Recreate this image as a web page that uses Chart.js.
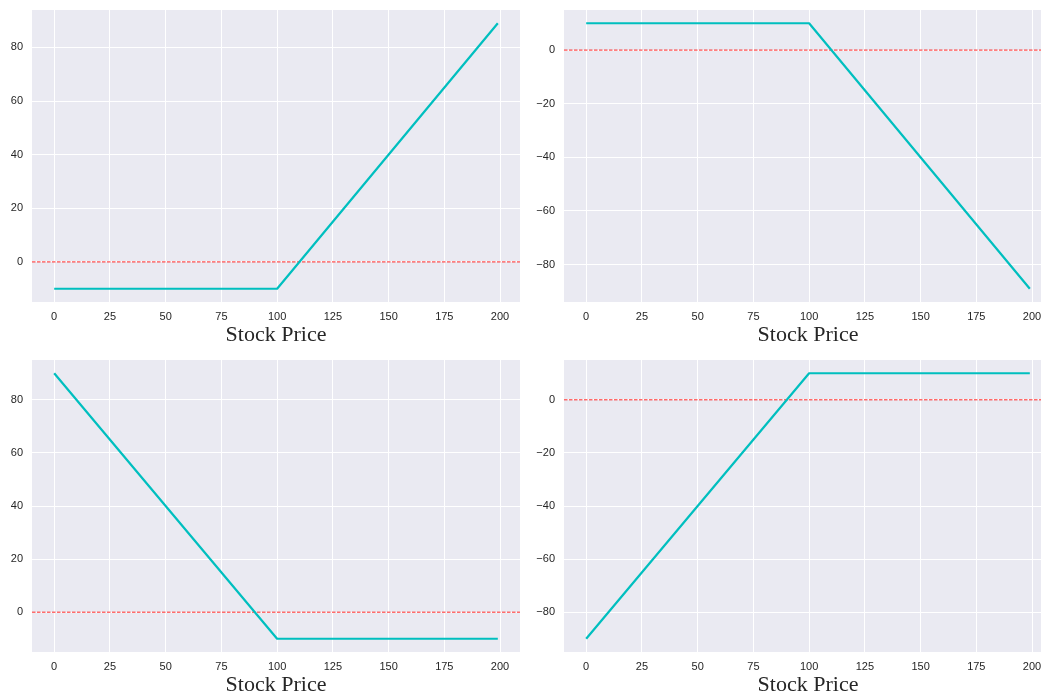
<!DOCTYPE html>
<html>
<head>
<meta charset="utf-8">
<script src="https://cdn.jsdelivr.net/npm/chart.js@4/dist/chart.umd.min.js"></script>
<style>
  html, body { margin: 0; padding: 0; background: #ffffff; overflow: hidden; width: 1041px; height: 696px; }
  .panel { position: absolute; width: 520px; height: 350px; }
  .panel canvas { display: block; }
</style>
</head>
<body>
<div class="panel" style="left:0px; top:0px;"><canvas id="c1" width="520" height="350"></canvas></div>
<div class="panel" style="left:532px; top:0px;"><canvas id="c2" width="520" height="350"></canvas></div>
<div class="panel" style="left:0px; top:350px;"><canvas id="c3" width="520" height="350"></canvas></div>
<div class="panel" style="left:532px; top:350px;"><canvas id="c4" width="520" height="350"></canvas></div>
<script>
// Stock price at expiry (breakpoints of the payoff lines)
const stockPrice = [0, 100, 199];

// Profit / loss of each option position at those prices (strike 100, premium 10)
const longCall  = [-10, -10, 89];
const shortCall = [10, 10, -89];
const longPut   = [90, -10, -10];
const shortPut  = [-90, 10, 10];

// Tick labels
const xTicks      = [0, 25, 50, 75, 100, 125, 150, 175, 200];
const yTicksUpper = [0, 20, 40, 60, 80];
const yTicksLower = [-80, -60, -40, -20, 0];

const xLabel = 'Stock Price';
const zeroLevel = 0;

const BG = '#EAEAF2';
const TEXT = '#262626';

// axis limits padded by 5% of the data span on each side
function padded(values) {
  const lo = Math.min(...values), hi = Math.max(...values);
  const m = (hi - lo) * 0.05;
  return [lo - m, hi + m];
}

const plotBackground = {
  id: 'plotBackground',
  beforeDraw(chart) {
    const { ctx, chartArea: a } = chart;
    ctx.save();
    ctx.fillStyle = BG;
    ctx.fillRect(a.left, a.top, a.right - a.left, a.bottom - a.top);
    ctx.restore();
  }
};

function fmt(v) {
  return String(v).replace('-', '\u2212');
}

function noEdgePadding(scale) {
  scale.paddingTop = 0;
  scale.paddingBottom = 0;
  scale.paddingLeft = 0;
  scale.paddingRight = 0;
}

function makeChart(id, values, yTicks) {
  const xl = padded(stockPrice);
  const yl = padded(values);
  const pts = stockPrice.map((x, i) => ({ x: x, y: values[i] }));
  return new Chart(document.getElementById(id), {
    type: 'scatter',
    data: {
      datasets: [
        {
          data: pts,
          showLine: true,
          borderColor: '#00BFBF',
          borderWidth: 2.2,
          pointRadius: 0,
          fill: false,
          order: 1,
          borderCapStyle: 'butt',
          borderJoinStyle: 'round'
        },
        {
          data: [{ x: xl[0], y: zeroLevel }, { x: xl[1], y: zeroLevel }],
          showLine: true,
          borderColor: 'rgba(255,0,0,0.85)',
          borderWidth: 1,
          borderDash: [3.5, 1.5],
          pointRadius: 0,
          fill: false,
          order: 2
        }
      ]
    },
    options: {
      responsive: false,
      animation: false,
      devicePixelRatio: 1,
      layout: { padding: { top: 10, left: 0, right: 0, bottom: 0 } },
      plugins: { legend: { display: false }, tooltip: { enabled: false } },
      scales: {
        x: {
          type: 'linear',
          min: xl[0],
          max: xl[1],
          afterBuildTicks(scale) { scale.ticks = xTicks.map(v => ({ value: v })); },
          afterFit(scale) { scale.height = 48; noEdgePadding(scale); },
          grid: { color: '#ffffff', lineWidth: 1, drawTicks: false },
          border: { display: false },
          ticks: {
            padding: 8,
            maxRotation: 0,
            autoSkip: false,
            color: TEXT,
            font: { family: 'Liberation Sans, Arial, sans-serif', size: 11 },
            callback: v => fmt(v)
          },
          title: {
            display: true,
            text: xLabel,
            color: TEXT,
            font: { family: 'Liberation Serif, Times New Roman, serif', size: 22 },
            padding: { top: 0, bottom: 2 }
          }
        },
        y: {
          type: 'linear',
          min: yl[0],
          max: yl[1],
          afterBuildTicks(scale) { scale.ticks = yTicks.map(v => ({ value: v })); },
          afterFit(scale) { scale.width = 32; noEdgePadding(scale); },
          grid: { color: '#ffffff', lineWidth: 1, drawTicks: false },
          border: { display: false },
          ticks: {
            padding: 9,
            autoSkip: false,
            color: TEXT,
            font: { family: 'Liberation Sans, Arial, sans-serif', size: 11 },
            callback: v => fmt(v)
          }
        }
      }
    },
    plugins: [plotBackground]
  });
}

makeChart('c1', longCall, yTicksUpper);
makeChart('c2', shortCall, yTicksLower);
makeChart('c3', longPut, yTicksUpper);
makeChart('c4', shortPut, yTicksLower);
</script>
</body>
</html>
